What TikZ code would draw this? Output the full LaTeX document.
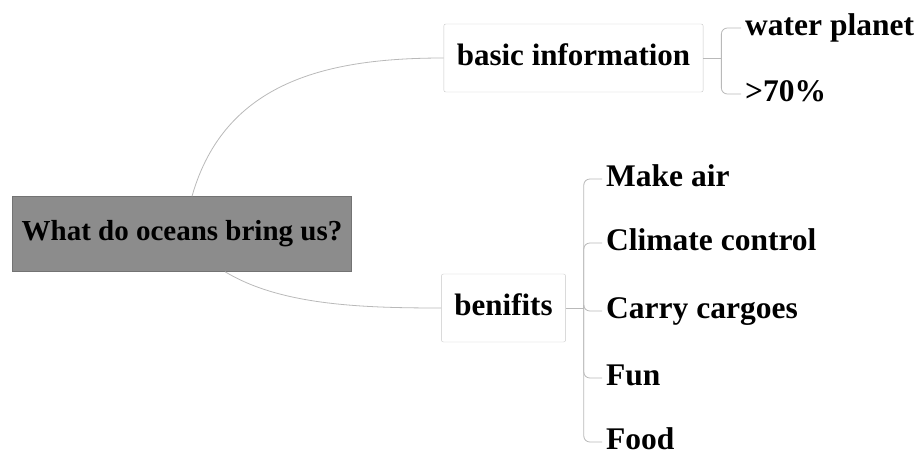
\documentclass[tikz,border=0pt]{standalone}
\usepackage{fontspec}
\setmainfont{Liberation Serif}
\usetikzlibrary{positioning}
\tikzset{%
  every topic/.style={
    draw=gray!45,
    rounded corners=2pt,
    font=\fontsize{31}{36}\selectfont\bfseries,
    text height=21pt,
    text depth=6pt,
    inner xsep=13pt,
    minimum height=68pt
  },
  root topic/.style={
    draw=black!55,
    fill=black!45,
    font=\fontsize{29}{33}\selectfont\bfseries,
    text height=19pt,
    text depth=6pt,
    inner xsep=9pt,
    minimum height=75pt
  },
  leaf topic/.style={
    anchor=west,
    inner xsep=4pt,
    inner ysep=2pt,
    font=\fontsize{31.5}{36}\selectfont\bfseries,
    text height=21pt,
    text depth=6pt
  },
  link/.style={draw=gray!55, line width=0.8pt},
}
\begin{document}
\begin{tikzpicture}[x=1pt, y=-1pt]
\useasboundingbox (0,0) rectangle (916,455);
\node[root topic] (root) at (182,234) {What do oceans bring us?};
\node[every topic] (basic) at (573.5,58) {basic information};
\node[every topic] (benefit) at (503.5,308) {benifits};
% main branches
\draw[link] ([xshift=10pt]root.north) .. controls (225,80) and (330,58) .. (basic.west);
\draw[link] ([xshift=43pt]root.south) .. controls (280,305) and (360,308) .. (benefit.west);
% basic information
\coordinate (basic_j) at ([xshift=18pt]basic.east);
\draw[link] (basic.east) -- (basic_j);
\node[leaf topic] (water) at (741,28) {water planet};
\node[leaf topic] (pct) at (741,94) {>70\%};
\foreach \n in {water,pct}
    \draw[link, rounded corners=6pt] (basic_j) |- (\n.west);
% benifits
\coordinate (benefit_j) at ([xshift=18pt]benefit.east);
\draw[link] (benefit.east) -- (benefit_j);
\foreach \y/\n/\t in {179/air/Make air, 243/climate/Climate control, 311/cargo/Carry cargoes, 378/fun/Fun, 442/food/Food}
    {\node[leaf topic] (\n) at (602,\y) {\t};
    \draw[link, rounded corners=6pt] (benefit_j) |- (\n.west);}
\end{tikzpicture}
\end{document}
